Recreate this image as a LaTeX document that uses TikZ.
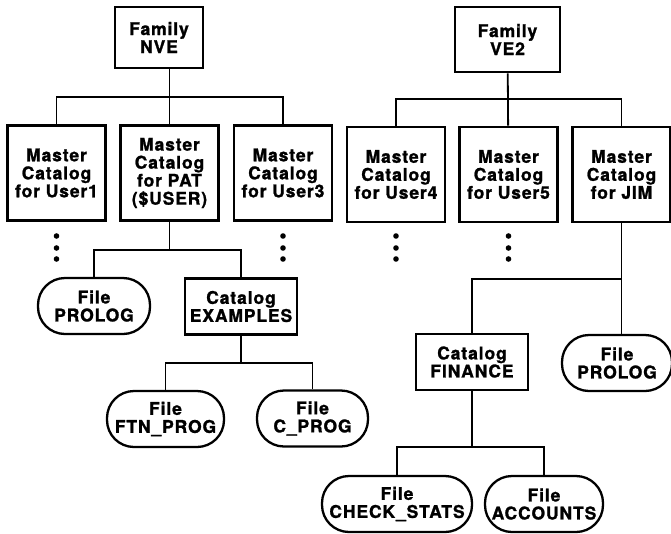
\documentclass[tikz,border=0pt]{standalone}
\usepackage{fontspec}
\setmainfont[LetterSpace=5, BoldFeatures={FakeBold=1.3}]{TeX Gyre Heros}
\usetikzlibrary{positioning}

\begin{document}
\begin{tikzpicture}[x=1pt, y=-1pt,
	every node/.style={font=\fontsize{17.5}{18}\selectfont\bfseries, align=center, inner sep=1pt},
	box/.style={shape=rectangle, draw=black, line width=2.6pt},
	master/.style={box, minimum width=98pt, minimum height=95pt},
	catbox/.style={box, minimum width=112pt, minimum height=56pt},
	file/.style={shape=rectangle, draw=black, line width=2.3pt, rounded corners=27pt, minimum height=56pt},
	link/.style={-, line width=1.8pt}]
	\useasboundingbox (0,0) rectangle (671,533);

	\node[box, minimum width=88pt, minimum height=61pt]  (nve) at (159,37.5)  {Family\\NVE};
	\node[box, minimum width=105pt, minimum height=65pt] (ve2) at (507.5,39.5) {Family\\VE2};

	\node[master] (user1) at (56.5,173)   {Master\\Catalog\\for User1};
	\node[master] (pat)   at (169.5,173)  {Master\\Catalog\\for PAT\\(\$USER)};
	\node[master] (user3) at (283,173)    {Master\\Catalog\\for User3};
	\node[master] (user4) at (396,174.5)  {Master\\Catalog\\for User4};
	\node[master] (user5) at (508.5,174.5){Master\\Catalog\\for User5};
	\node[master] (jim)   at (621.5,174.5){Master\\Catalog\\for JIM};

	\node[file, minimum width=112pt] (prologa)  at (94,306)    {File\\PROLOG};
	\node[catbox]                    (examples) at (241,306.5) {Catalog\\EXAMPLES};
	\node[file, minimum width=117pt] (ftnprog)  at (165.5,419) {File\\FTN\_PROG};
	\node[file, minimum width=111pt] (cprog)    at (312.5,418.5) {File\\C\_PROG};

	\node[catbox]                    (finance)  at (472,362)   {Catalog\\FINANCE};
	\node[file, minimum width=110pt] (prologb)  at (617,363)   {File\\PROLOG};
	\node[file, minimum width=150pt] (checkst)  at (397,504)   {File\\CHECK\_STATS};
	\node[file, minimum width=118pt] (accounts) at (544,504)   {File\\ACCOUNTS};

	% bus junctions
	\coordinate (nvebus) at (169.5,97);
	\coordinate (ve2bus) at (508.5,99);
	\coordinate (patbus) at (169.5,250);
	\coordinate (exabus) at (241,363);
	\coordinate (jimbus) at (621.5,279);
	\coordinate (finbus) at (472,447);

	\path [link] (nve.south -| nvebus) edge (pat.north);
	\draw [link] (user1.north) |- (nvebus) -| (user3.north);
	\path [link] (ve2) edge (user5);
	\draw [link] (user4.north) |- (ve2bus) -| (jim.north);

	\path [link] (pat) edge (patbus);
	\draw [link] (prologa.north) |- (patbus) -| (examples.north);
	\path [link] (examples) edge (exabus);
	\draw [link] (ftnprog.north) |- (exabus) -| (cprog.north);

	\path [link] (jim.south) edge (jim.south |- prologb.north);
	\draw [link] (finance.north) |- (jimbus);
	\path [link] (finance) edge (finbus);
	\draw [link] (checkst.north) |- (finbus) -| (accounts.north);

	\foreach \n in {user1,user3,user4,user5}
		\foreach \y in {236,248,259}
			\fill (\n.south |- 0,\y) circle (2.8pt);
\end{tikzpicture}
\end{document}
